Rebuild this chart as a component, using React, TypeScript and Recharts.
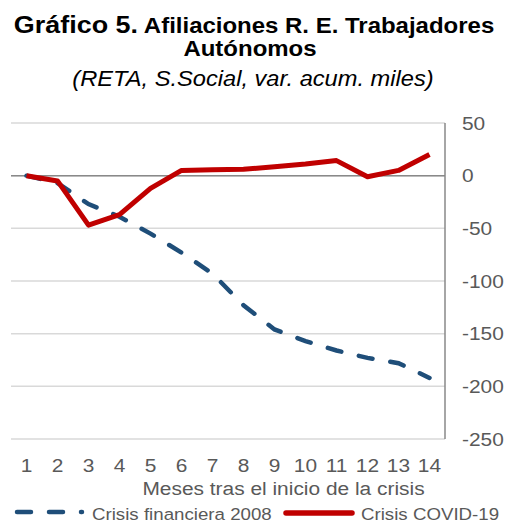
import React from 'react';
import { LineChart, Line, XAxis, YAxis, CartesianGrid, ReferenceLine } from 'recharts';

const months = ['1', '2', '3', '4', '5', '6', '7', '8', '9', '10', '11', '12', '13', '14'];
const crisis2008 = [0, -7, -27, -39, -55, -73, -93, -123, -146, -157, -166, -173, -178, -192];
const covid19 = [0, -5, -47, -37, -12, 5, 5.5, 6, 8.5, 11, 14.3, -1, 5, 20];
const yTicks = [50, 0, -50, -100, -150, -200, -250];

const seriesNames = ['Crisis financiera 2008', 'Crisis COVID-19'];
const BLUE = '#1F4E79';
const RED = '#C00000';
const GREY = '#595959';
const FONT = '"Liberation Sans", Arial, sans-serif';
// the reference is slightly stretched horizontally
const SX = 1.1;

const data = months.map((m, i) => ({ m, crisis2008: crisis2008[i], covid19: covid19[i] }));

const YTick = (props: any) => {
    const { x, y, payload } = props;
    return (
        <text
            transform={`translate(${x},${y}) scale(${SX},1)`}
            dy='0.35em'
            textAnchor='start'
            fill={GREY}
            fontSize={19}
            fontFamily={FONT}
        >
            {payload.value}
        </text>
    );
};

const XTick = (props: any) => {
    const { x, y, payload } = props;
    return (
        <text
            transform={`translate(${x},${y + 33}) scale(${SX},1)`}
            textAnchor='middle'
            fill={GREY}
            fontSize={19}
            fontFamily={FONT}
        >
            {payload.value}
        </text>
    );
};

const Overlay = () => (
    <svg
        width={510}
        height={524}
        style={{ position: 'absolute', left: 0, top: 0, pointerEvents: 'none' }}
        fontFamily={FONT}
    >
        <g transform={`translate(254,0) scale(${SX},1)`}>
            <text y={33} textAnchor='middle' fontWeight='bold' fill='#000'>
                <tspan fontSize={24.5}>Gráfico 5.</tspan>
                <tspan fontSize={21.8}> Afiliaciones R. E. Trabajadores</tspan>
            </text>
        </g>
        <g transform={`translate(250,0) scale(${SX},1)`}>
            <text y={56} textAnchor='middle' fontWeight='bold' fontSize={21.8} fill='#000'>
                Autónomos
            </text>
        </g>
        <g transform={`translate(253,0) scale(${SX},1)`}>
            <text y={86} textAnchor='middle' fontStyle='italic' fontSize={21.5} fill='#000'>
                (RETA, S.Social, var. acum. miles)
            </text>
        </g>
        <text
            transform={`translate(283.5,495) scale(${SX},1)`}
            textAnchor='middle'
            fontSize={19}
            fill={GREY}
        >
            Meses tras el inicio de la crisis
        </text>
        {/* legend */}
        <line x1={17} x2={82} y1={512} y2={512} stroke={BLUE} strokeWidth={4.5} strokeDasharray='14 18' strokeLinecap='round' />
        <text transform={`translate(92,520) scale(${SX},1)`} fontSize={17} fill={GREY}>
            {seriesNames[0]}
        </text>
        <line x1={286} x2={352} y1={513} y2={513} stroke={RED} strokeWidth={5.5} strokeLinecap='round' />
        <text transform={`translate(361,520) scale(${SX},1)`} fontSize={17} fill={GREY}>
            {seriesNames[1]}
        </text>
    </svg>
);

export default function App() {
    return (
        <div style={{ position: 'absolute', left: 0, top: 0, width: 510, height: 524, background: '#fff' }}>
            <LineChart width={510} height={524} data={data} margin={{ top: 123, right: 0, bottom: 55, left: 11 }}>
                <CartesianGrid vertical={false} stroke='#D9D9D9' strokeWidth={1.5} />
                <XAxis
                    dataKey='m'
                    height={30}
                    axisLine={false}
                    tickLine={false}
                    tickSize={0}
                    tickMargin={0}
                    interval={0}
                    padding={{ left: 15.5, right: 15.5 }}
                    tick={<XTick />}
                />
                <YAxis
                    orientation='right'
                    width={65}
                    domain={[-250, 50]}
                    ticks={yTicks}
                    interval={0}
                    axisLine={{ stroke: '#898989', strokeWidth: 1.5 }}
                    tickLine={false}
                    tickSize={0}
                    tickMargin={17}
                    tick={<YTick />}
                />
                <ReferenceLine y={0} stroke='#898989' strokeWidth={1.5} />
                <Line
                    dataKey='crisis2008'
                    name={seriesNames[0]}
                    stroke={BLUE}
                    strokeWidth={4.5}
                    strokeDasharray='14 18'
                    strokeLinecap='round'
                    dot={false}
                    isAnimationActive={false}
                />
                <Line
                    dataKey='covid19'
                    name={seriesNames[1]}
                    stroke={RED}
                    strokeWidth={5}
                    strokeLinejoin='round'
                    dot={false}
                    isAnimationActive={false}
                />
            </LineChart>
            <Overlay />
        </div>
    );
}
